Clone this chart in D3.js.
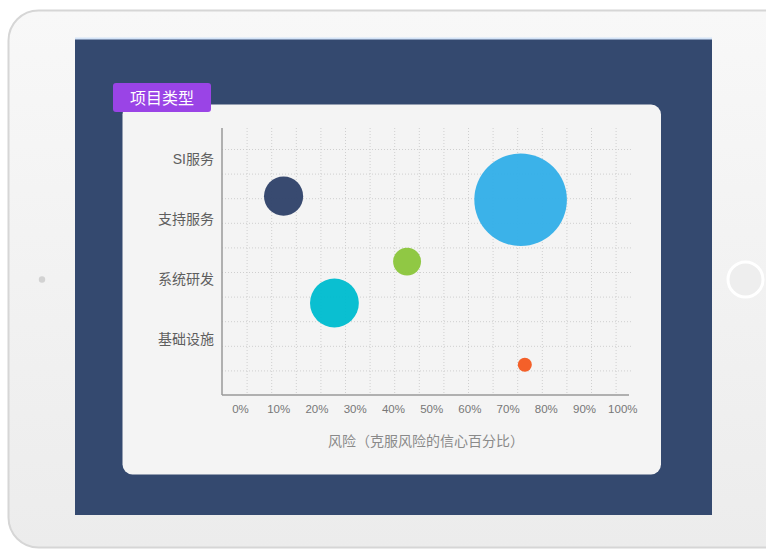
<!DOCTYPE html>
<html>
<head>
<meta charset="utf-8">
<script src="https://cdn.jsdelivr.net/npm/d3@7"></script>
<style>
  html, body { margin: 0; padding: 0; background: #ffffff; }
  svg { display: block; }
  text { font-family: "Liberation Sans", "Noto Sans CJK SC", sans-serif; }
</style>
</head>
<body>
<div id="chart"></div>
<script>
// ---- data ----
const categories = ["基础设施", "系统研发", "支持服务", "SI服务"];   // y index 1..4
const seriesNames = ["A", "B", "C", "D", "E"];
const riskValues  = [11.4, 24.7, 43.7, 73.4, 74.5];   // x, percent
const typeValues  = [3.38, 1.60, 2.29, 3.32, 0.57];   // y, category position
const sizeValues  = [17.9, 27.8, 9.1, 100, 2.3];      // bubble size
const bubbleColors = ["#30436a", "#00bccf", "#8bc63c", "#33afe8", "#f45a20"];
const xTickValues = [0, 10, 20, 30, 40, 50, 60, 70, 80, 90, 100];
const tagTitle = "项目类型";
const xTitle = "风险（克服风险的信心百分比）";

const W = 766, H = 549;
const svg = d3.select("#chart").append("svg").attr("width", W).attr("height", H);

// ---- tablet frame ----
const defs = svg.append("defs");
const g1 = defs.append("linearGradient").attr("id", "frameGrad").attr("x1", 0).attr("y1", 0).attr("x2", 0).attr("y2", 1);
g1.append("stop").attr("offset", "0%").attr("stop-color", "#f8f8f8");
g1.append("stop").attr("offset", "100%").attr("stop-color", "#ececec");

svg.append("rect").attr("x", 8.5).attr("y", 10.5).attr("width", 790).attr("height", 537)
  .attr("rx", 30).attr("fill", "url(#frameGrad)").attr("stroke", "#d6d6d6").attr("stroke-width", 2);

// screen
svg.append("rect").attr("x", 75).attr("y", 38).attr("width", 637).attr("height", 477).attr("fill", "#34496f");
svg.append("rect").attr("x", 75).attr("y", 37.5).attr("width", 637).attr("height", 2).attr("fill", "#d3e3f7");

// home button & camera
svg.append("circle").attr("cx", 745.5).attr("cy", 279.5).attr("r", 17.5)
  .attr("fill", "#eeeeee").attr("stroke", "#ffffff").attr("stroke-width", 3);
svg.append("circle").attr("cx", 42).attr("cy", 279.5).attr("r", 3.2).attr("fill", "#d2d2d2");

// card
svg.append("rect").attr("x", 122.5).attr("y", 104.5).attr("width", 538.5).attr("height", 370)
  .attr("rx", 10).attr("fill", "#f4f4f4");

// tag
svg.append("rect").attr("x", 113).attr("y", 83).attr("width", 98).attr("height", 29)
  .attr("rx", 3).attr("fill", "#9a44e6");
svg.append("text").attr("x", 162).attr("y", 98).attr("text-anchor", "middle")
  .attr("dominant-baseline", "central").attr("fill", "#ffffff").attr("font-size", 16)
  .text(tagTitle);

// ---- plot ----
const plotLeft = 222, plotRight = 629, plotTop = 128, plotBottom = 395;
const x = d3.scaleLinear().domain([0, 100]).range([240, 622.3]);
const y = d3.scaleLinear().domain([0, 4.5]).range([399, 129]);
const r = d3.scaleSqrt().domain([0, 100]).range([0, 46.3]);

// grid (dotted, fixed pitch)
const gridStep = 24.6;
const grid = svg.append("g").attr("stroke", "#cfcfcf").attr("stroke-width", 1).attr("stroke-dasharray", "1 2");
d3.range(1, 11).forEach(k => {
  const gy = plotBottom - k * gridStep;
  grid.append("line").attr("x1", plotLeft).attr("x2", 632).attr("y1", gy + 0.5).attr("y2", gy + 0.5);
});
d3.range(1, 17).forEach(k => {
  const gx = plotLeft + k * gridStep;
  grid.append("line").attr("x1", gx + 0.5).attr("x2", gx + 0.5).attr("y1", plotTop).attr("y2", plotBottom);
});

// axes lines
svg.append("line").attr("x1", plotLeft).attr("x2", plotLeft).attr("y1", plotTop).attr("y2", plotBottom)
  .attr("stroke", "#9a9a9a").attr("stroke-width", 1.5);
svg.append("line").attr("x1", plotLeft).attr("x2", plotRight).attr("y1", plotBottom).attr("y2", plotBottom)
  .attr("stroke", "#9a9a9a").attr("stroke-width", 1.5);

// x axis tick labels via d3 axis
const xAxis = d3.axisBottom(x).tickValues(xTickValues).tickFormat(d => d + "%").tickSize(0).tickPadding(0);
const xg = svg.append("g").attr("transform", `translate(0, ${plotBottom + 10})`).call(xAxis);
xg.select(".domain").remove();
xg.selectAll("text").attr("font-size", 11.5).attr("fill", "#777777")
  .attr("font-family", "Liberation Sans, sans-serif").attr("dy", "0.71em");

// y axis category labels via d3 axis
const yAxis = d3.axisLeft(y).tickValues([1, 2, 3, 4]).tickFormat(d => categories[d - 1]).tickSize(0).tickPadding(0);
const yg = svg.append("g").attr("transform", `translate(214, 0)`).call(yAxis);
yg.select(".domain").remove();
yg.selectAll("text").attr("font-size", 14).attr("fill", "#5e5e5e")
  .attr("font-family", "Liberation Sans, Noto Sans CJK SC, sans-serif");

// x title
svg.append("text").attr("x", 426).attr("y", 441).attr("text-anchor", "middle")
  .attr("dominant-baseline", "central").attr("font-size", 14).attr("fill", "#8a8a8a")
  .attr("font-family", "Noto Sans CJK SC, sans-serif")
  .text(xTitle);

// bubbles
const data = seriesNames.map((n, i) => ({ name: n, x: riskValues[i], y: typeValues[i], s: sizeValues[i], c: bubbleColors[i] }));
svg.append("g").selectAll("circle").data(data).join("circle")
  .attr("cx", d => x(d.x)).attr("cy", d => y(d.y)).attr("r", d => r(d.s))
  .attr("fill", d => d.c).attr("fill-opacity", 0.96);
</script>
</body>
</html>
